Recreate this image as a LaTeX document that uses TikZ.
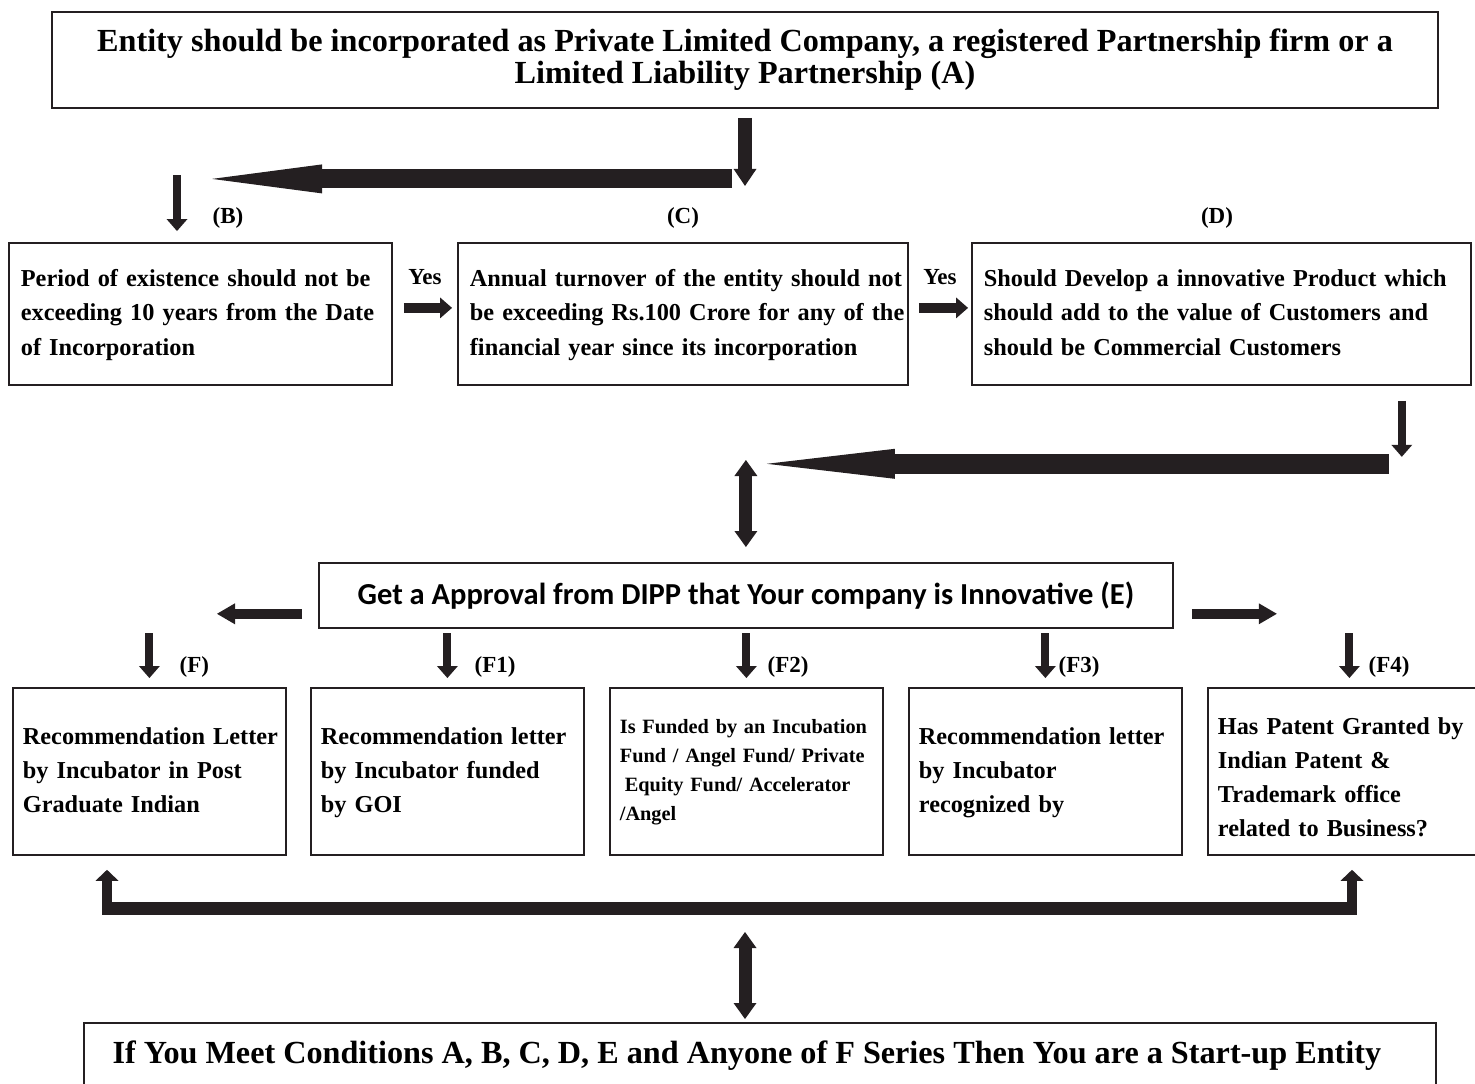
\documentclass[tikz,border=0pt]{standalone}
\usepackage{fontspec}
\setmainfont{Liberation Serif}
\newfontfamily\calibrifont{Carlito}
\usetikzlibrary{arrows.meta,calc}

\definecolor{ink}{rgb}{0.14,0.12,0.13}

\newcommand{\fntbig}{\fontsize{32.2}{32}\selectfont\bfseries}
\newcommand{\fntcond}{\fontsize{24.3}{34.5}\selectfont\bfseries}
\newcommand{\fntcase}{\fontsize{24.3}{34}\selectfont\bfseries}
\newcommand{\fntsmall}{\fontsize{20.3}{29}\selectfont\bfseries}
\newcommand{\fnttag}{\fontsize{23}{23}\selectfont\bfseries}
\newcommand{\lines}[1]{\begin{tabular}{@{}l@{}}#1\end{tabular}}

\tikzset{
  box/.style={draw=ink, line width=1.8pt, inner sep=0pt},
  cond/.style={box, anchor=north west, inner xsep=12pt, minimum height=142pt, align=left, font=\fntcond},
  fcase/.style={box, anchor=north west, inner xsep=10pt, minimum height=167pt, text width=253pt, align=left, font=\fntcase},
  tag/.style={inner sep=0pt, font=\fnttag},
  bigarrow/.style={draw=ink, line width=19pt, -{Triangle[length=110pt,width=29pt,line width=0pt]}},
  lowarrow/.style={draw=ink, line width=20pt, -{Triangle[length=128pt,width=30pt,line width=0pt]}},
  thickdown/.style={draw=ink, line width=14pt, -{Triangle[length=17pt,width=23pt,line width=0pt]}},
  tick/.style={draw=ink, line width=8pt, -{Triangle[length=12pt,width=21pt,line width=0pt]}},
  yesarrow/.style={draw=ink, line width=10pt, -{Triangle[length=12pt,width=21pt,line width=0pt]}},
  sidearrow/.style={draw=ink, line width=10pt, -{Triangle[length=18pt,width=21pt,line width=0pt]}},
  twoway/.style={draw=ink, line width=13pt, {Triangle[length=16pt,width=23pt,line width=0pt]}-{Triangle[length=16pt,width=23pt,line width=0pt]}},
  uparrow/.style={draw=ink, line width=10pt, -{Triangle[length=11pt,width=23pt,line width=0pt]}}
}

\begin{document}
\begin{tikzpicture}[x=1pt,y=-1pt]
\useasboundingbox (0,0) rectangle (1475,1084);

% condition A
\node[box, minimum width=1386pt, minimum height=96pt, align=center, font=\fntbig] (A) at (745,60)
  {Entity should be incorporated as Private Limited Company, a registered Partnership firm or a\\
   Limited Liability Partnership (A)};

% conditions B, C, D
\node[cond, text width=359pt] (B) at (8,242)
  {\lines{Period of existence should not be\\exceeding 10 years from the Date\\of Incorporation}};
\node[cond, text width=426pt] (C) at (457,242)
  {\lines{Annual turnover of the entity should not\\be exceeding Rs.100 Crore for any of the\\financial year since its incorporation}};
\node[cond, text width=475pt] (D) at (971,242)
  {\lines{Should Develop a innovative Product which\\should add to the value of Customers and\\should be Commercial Customers}};

\node[tag] (tagB) at ($(B.north west)+(220,-24)$) {(B)};
\node[tag] (tagC) at ($(C.north west)+(226,-24)$) {(C)};
\node[tag] (tagD) at ($(D.north west)+(246,-24)$) {(D)};
\node[tag] (yes1) at ($(B.north east)!0.5!(C.north west)+(0,35)$) {Yes};
\node[tag] (yes2) at ($(C.north east)!0.5!(D.north west)+(0,35)$) {Yes};

\draw[thickdown] ($(A.south)+(0,9)$) -- ++(0,68);
\draw[bigarrow] ($(A.south)+(-13,70)$) -- ++(-520,0);
\draw[tick] ($(B.north west)+(169,-67)$) -- ++(0,56);
\draw[yesarrow] ($(B.east)+(11,-6)$) -- ($(C.west)+(-5,-6)$);
\draw[yesarrow] ($(C.east)+(10,-6)$) -- ($(D.west)+(-3,-6)$);
\draw[tick] ($(D.south east)+(-70,15)$) -- ++(0,56);
\draw[lowarrow] ($(D.south east)+(-83,78)$) -- ++(-622,0);

% condition E
\node[box, anchor=north west, minimum width=854pt, minimum height=65pt, font=\calibrifont\fontsize{30.5}{32}\selectfont\bfseries] (E) at (318,562)
  {Get a Approval from DIPP that Your company is Innovative (E)};
\draw[twoway] ($(E.north)+(0,-102)$) -- ($(E.north)+(0,-15)$);
\draw[sidearrow] ($(E.south west)+(-16,-15)$) -- ++(-85,0);
\draw[sidearrow] ($(E.south east)+(18,-15)$) -- ++(85,0);

% F series
\node[fcase] (F) at (12,687)
  {\lines{Recommendation Letter\\by Incubator in Post\\Graduate Indian}};
\node[fcase] (F1) at (310,687)
  {\lines{Recommendation letter\\by Incubator funded\\by GOI}};
\node[fcase, font=\fntsmall] (F2) at (609,687)
  {\lines{Is Funded by an Incubation\\Fund / Angel Fund/ Private\\\hspace*{5pt}Equity Fund/ Accelerator\\/Angel}};
\node[fcase] (F3) at (908,687)
  {\lines{Recommendation letter\\by Incubator\\recognized by}};
\node[fcase, text width=263pt] (F4) at (1207,687)
  {\lines{\\[-20pt]Has Patent Granted by\\Indian Patent \&\\Trademark office\\related to Business?}};

\foreach \f/\dx in {F/30, F1/27, F2/21, F3/13, F4/19}{
  \draw[tick] ($(\f.north)+(0,-54)$) -- ($(\f.north)+(0,-9)$);
  \node[tag, anchor=west] (tag\f) at ($(\f.north)+(\dx,-20)$) {(\f)};
}

% result
\node[box, anchor=north west, minimum width=1352pt, minimum height=66pt, font=\fntbig] (G) at (83,1022)
  {If You Meet Conditions A, B, C, D, E and Anyone of F Series Then You are a Start-up Entity\hspace*{26pt}};

\draw[draw=ink, line width=13pt] ($(F.south west)+(90,52.5)$) -- ($(F4.south west)+(150,52.5)$);
\draw[uparrow] ($(F.south west)+(95,59)$) -- ($(F.south west)+(95,14)$);
\draw[uparrow] ($(F4.south west)+(145,59)$) -- ($(F4.south west)+(145,14)$);
\draw[twoway] ($(G.north west)+(662,-90)$) -- ($(G.north west)+(662,-3)$);

\end{tikzpicture}
\end{document}
